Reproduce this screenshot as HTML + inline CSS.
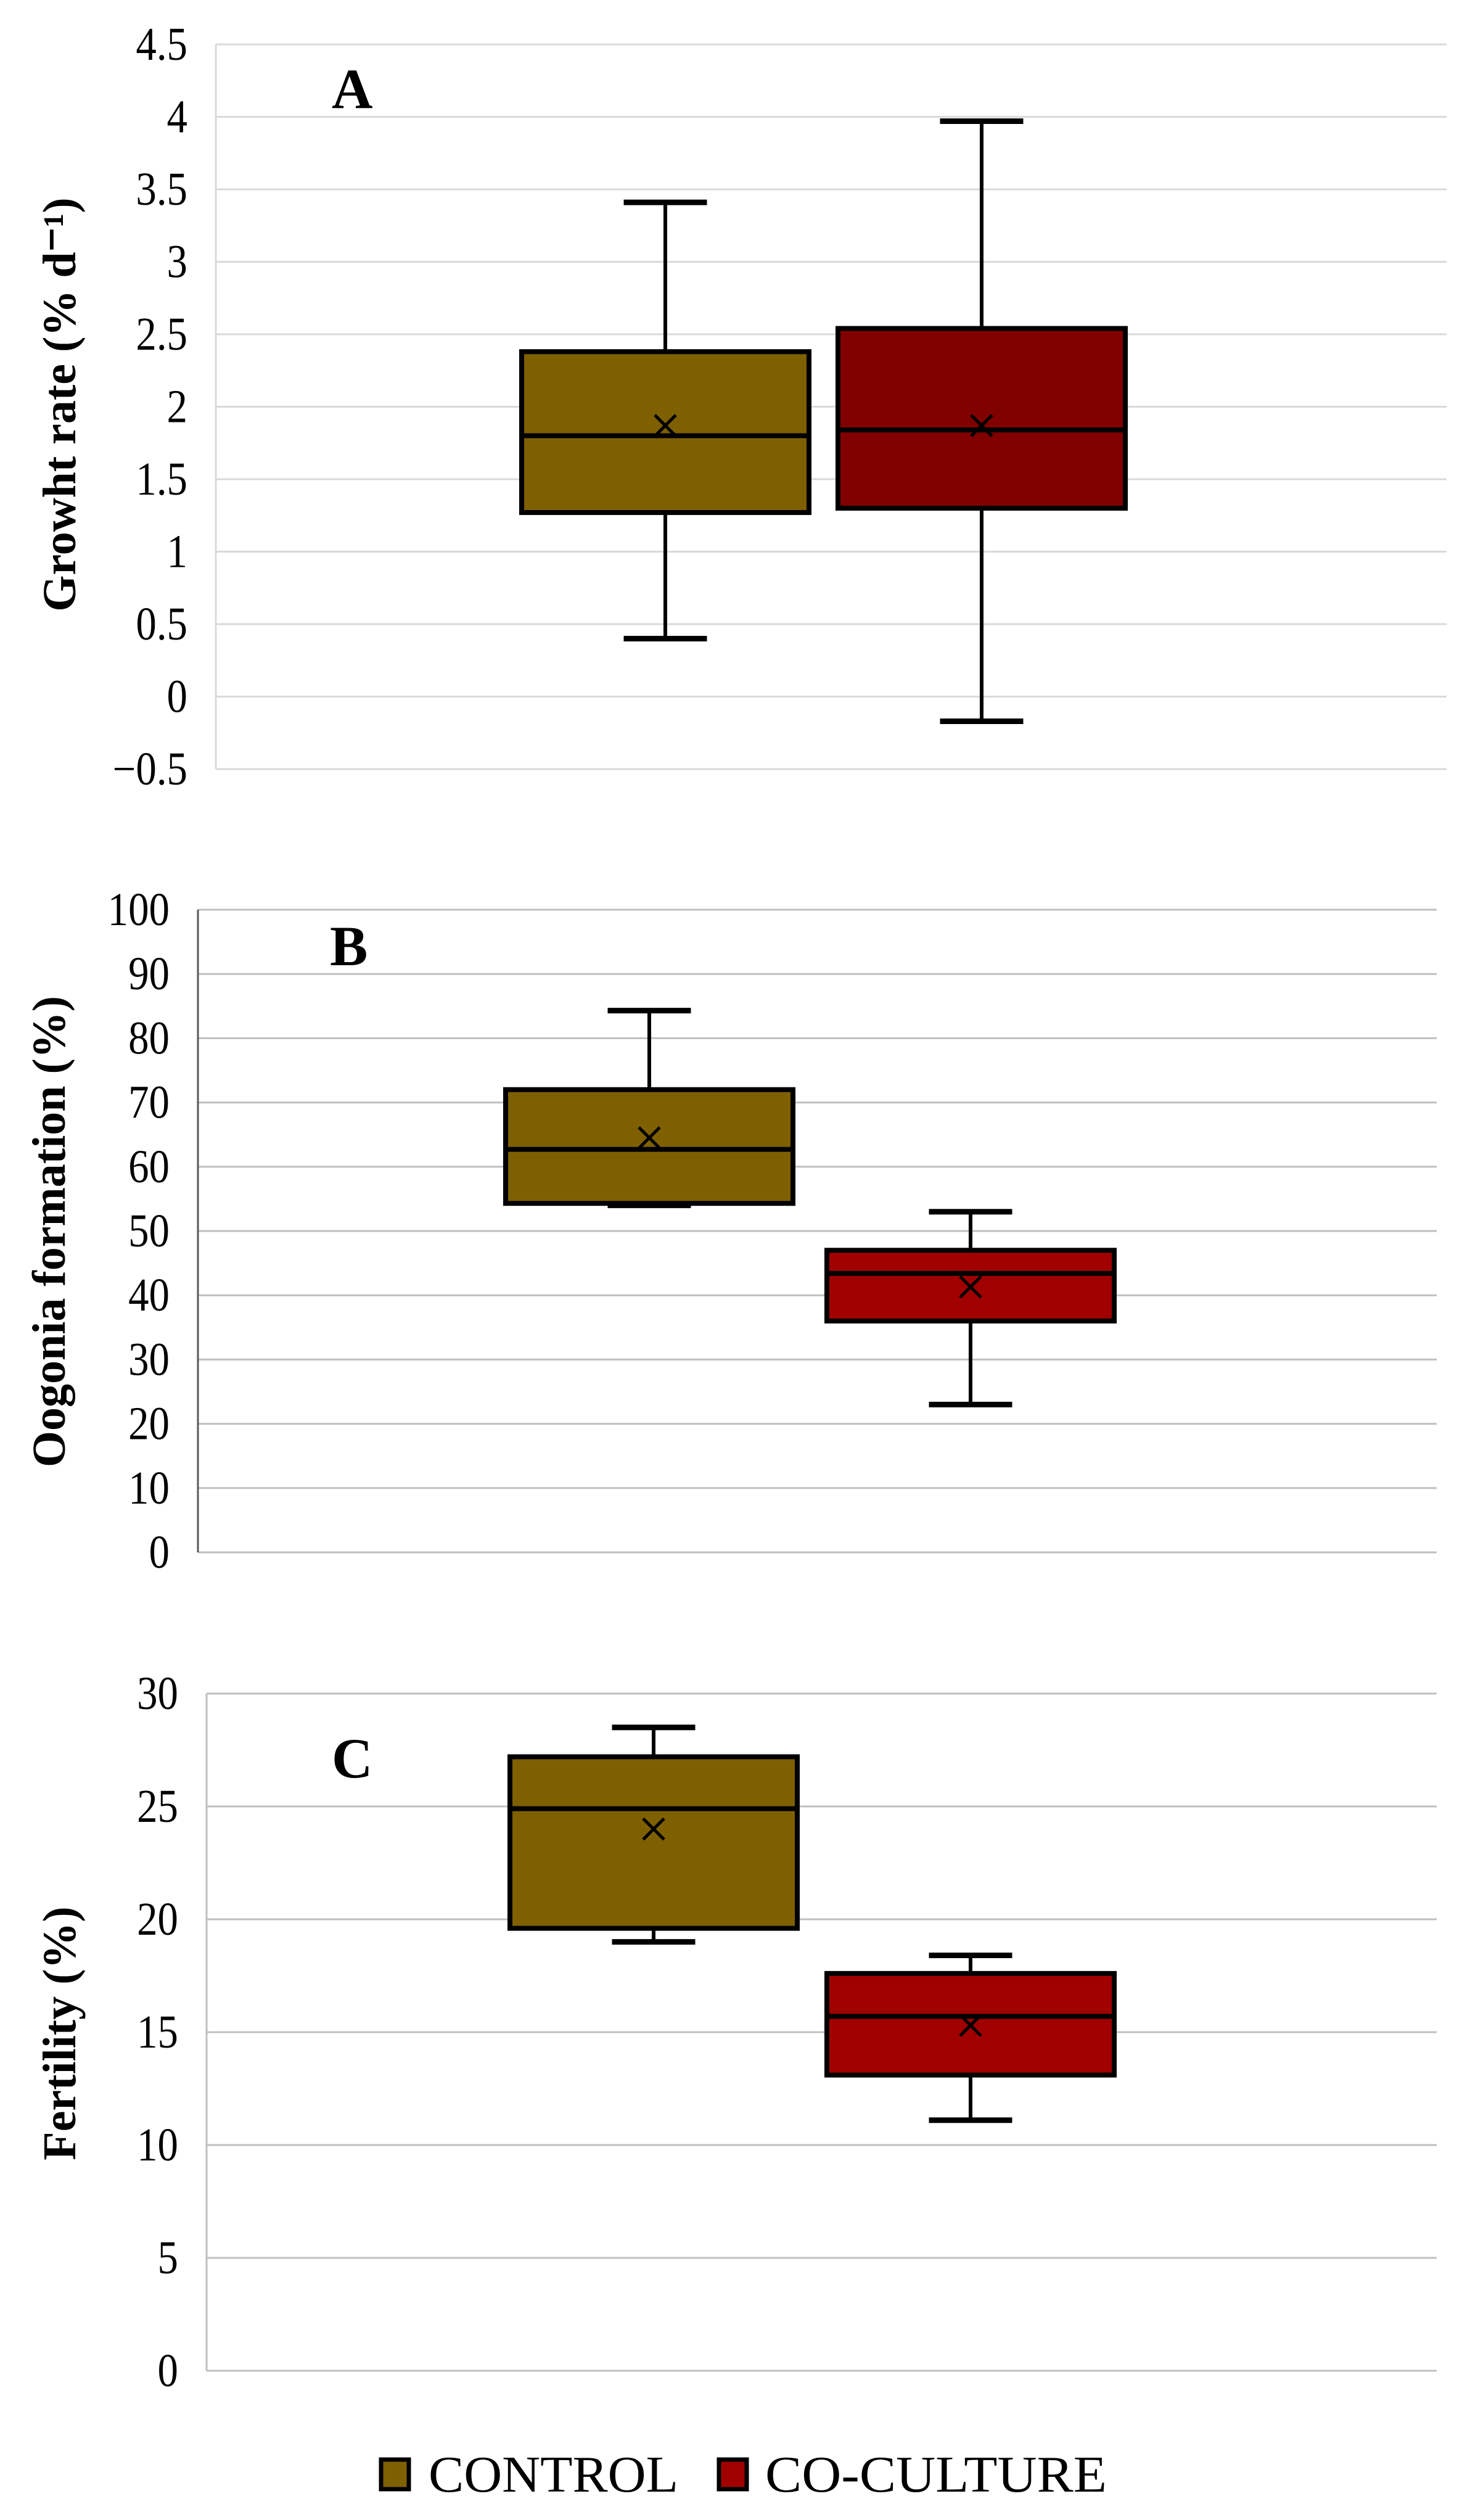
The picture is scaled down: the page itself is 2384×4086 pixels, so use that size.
<!DOCTYPE html>
<html><head><meta charset="utf-8"><style>
html,body{margin:0;padding:0;background:#fff;}
svg{display:block;}
text{font-family:"Liberation Serif",serif;fill:#000;}
</style></head><body>
<svg id="c" width="2384" height="4086" viewBox="0 0 2384 4086" xmlns="http://www.w3.org/2000/svg"></svg>
<script>
// Panel A data
const aTicks = [-0.5,0,0.5,1,1.5,2,2.5,3,3.5,4,4.5];
const aTickLabels = ["\u22120.5","0","0.5","1","1.5","2","2.5","3","3.5","4","4.5"];
const aControl = [0.40,1.27,1.80,2.38,3.41];
const aCoculture = [-0.17,1.30,1.84,2.54,3.97];
const aMeans = [1.87,1.87];
// Panel B data
const bTicks = [0,10,20,30,40,50,60,70,80,90,100];
const bTickLabels = ["0","10","20","30","40","50","60","70","80","90","100"];
const bControl = [54.0,54.3,62.7,72.0,84.3];
const bCoculture = [23.0,36.0,43.4,47.0,53.0];
const bMeans = [64.5,41.3];
// Panel C data
const cTicks = [0,5,10,15,20,25,30];
const cTickLabels = ["0","5","10","15","20","25","30"];
const cControl = [19.0,19.6,24.9,27.2,28.5];
const cCoculture = [11.1,13.1,15.7,17.6,18.4];
const cMeans = [24.0,15.3];

const NS="http://www.w3.org/2000/svg";
const svg=document.getElementById('c');
function mk(tag,attrs,parent){const e=document.createElementNS(NS,tag);for(const k in attrs)e.setAttribute(k,attrs[k]);(parent||svg).appendChild(e);return e;}

function panel(o){
  const g=mk('g',{});
  
  
  const min=o.ticks[0],max=o.ticks[o.ticks.length-1];
  const y=v=>o.yBot-(v-min)/(max-min)*(o.yBot-o.yTop);
  const lx=o.x0-46;
  o.ticks.forEach((t,i)=>{
    const l=mk('line',{x1:o.x0,x2:o.x1,y1:y(t),y2:y(t),stroke:o.grid,'stroke-width':3},g);
    
    
    const tx=mk('text',{x:lx,y:y(t)+25,'text-anchor':'end','font-size':76,transform:`translate(${lx},0) scale(0.88,1) translate(${-lx},0)`},g);
    tx.textContent=o.labels[i];
    
    
  });
  const ax=mk('line',{x1:o.x0,x2:o.x0,y1:o.yTop,y2:o.yBot,stroke:o.axis,'stroke-width':3},g);
  
  
  [[o.control,o.cx[0],'#7f6000','control'],[o.cocult,o.cx[1],o.coColor,'co-culture']].forEach(([d,cx,col,nm],k)=>{
    const bw=466,cap=135;
    const w1=mk('line',{x1:cx,x2:cx,y1:y(d[0]),y2:y(d[1]),stroke:'#000','stroke-width':6},g);
    
    
    const w2=mk('line',{x1:cx,x2:cx,y1:y(d[3]),y2:y(d[4]),stroke:'#000','stroke-width':6},g);
    
    
    [d[0],d[4]].forEach(v=>{
      const c=mk('line',{x1:cx-cap/2,x2:cx+cap/2,y1:y(v),y2:y(v),stroke:'#000','stroke-width':9},g);
      
      
    });
    const r=mk('rect',{x:cx-bw/2,y:y(d[3]),width:bw,height:y(d[1])-y(d[3]),fill:col,stroke:'#000','stroke-width':8},g);
    
    
    const m=mk('line',{x1:cx-bw/2,x2:cx+bw/2,y1:y(d[2]),y2:y(d[2]),stroke:'#000','stroke-width':8},g);
    
    
    const my=y(o.means[k]),s=17;
    const x=mk('path',{d:`M${cx-s} ${my-s}L${cx+s} ${my+s}M${cx+s} ${my-s}L${cx-s} ${my+s}`,stroke:'#000','stroke-width':5,fill:'none'},g);
    
    
  });
  const lt=mk('text',{x:o.letterX,y:o.letterY,'font-size':92,'font-weight':'bold'},g);
  lt.textContent=o.letter;
  
  
  const ty=mk('text',{x:0,y:0,'font-size':76,'font-weight':'bold','text-anchor':'middle',transform:`translate(${o.titleX},${o.titleY}) rotate(-90)`},g);
  ty.textContent=o.title;
  
  
}

panel({id:'growth',ticks:aTicks,labels:aTickLabels,control:aControl,cocult:aCoculture,means:aMeans,
  x0:350,x1:2346,yTop:72,yBot:1247,cx:[1079,1592],coColor:'#800000',grid:'#d9d9d9',axis:'#d9d9d9',
  letter:'A',letterX:538,letterY:175,titleX:122,titleY:656,title:'Growht rate (% d\u207B\u00B9)'});
panel({id:'oogonia',ticks:bTicks,labels:bTickLabels,control:bControl,cocult:bCoculture,means:bMeans,
  x0:321,x1:2330,yTop:1475,yBot:2517,cx:[1053,1574],coColor:'#a00000',grid:'#bfbfbf',axis:'#595959',
  letter:'B',letterX:535,letterY:1565,titleX:105,titleY:1997,title:'Oogonia formation (%)'});
panel({id:'fertility',ticks:cTicks,labels:cTickLabels,control:cControl,cocult:cCoculture,means:cMeans,
  x0:335,x1:2330,yTop:2746,yBot:3844,cx:[1060,1574],coColor:'#a00000',grid:'#bfbfbf',axis:'#bfbfbf',
  letter:'C',letterX:538,letterY:2882,titleX:122,titleY:3297,title:'Fertility (%)'});

// legend
const lg=mk('g',{});


[['#7f6000','CONTROL',618,695,405],['#a00000','CO-CULTURE',1166,1241,554]].forEach(([col,t,sx,tx,tw])=>{
  const r=mk('rect',{x:sx,y:3988,width:45,height:48,fill:col,stroke:'#000','stroke-width':7},lg);
  
  
  const te=mk('text',{x:tx,y:4040,'font-size':84,textLength:tw,lengthAdjust:'spacingAndGlyphs'},lg);
  te.textContent=t;
  
  
});
</script>
</body></html>
